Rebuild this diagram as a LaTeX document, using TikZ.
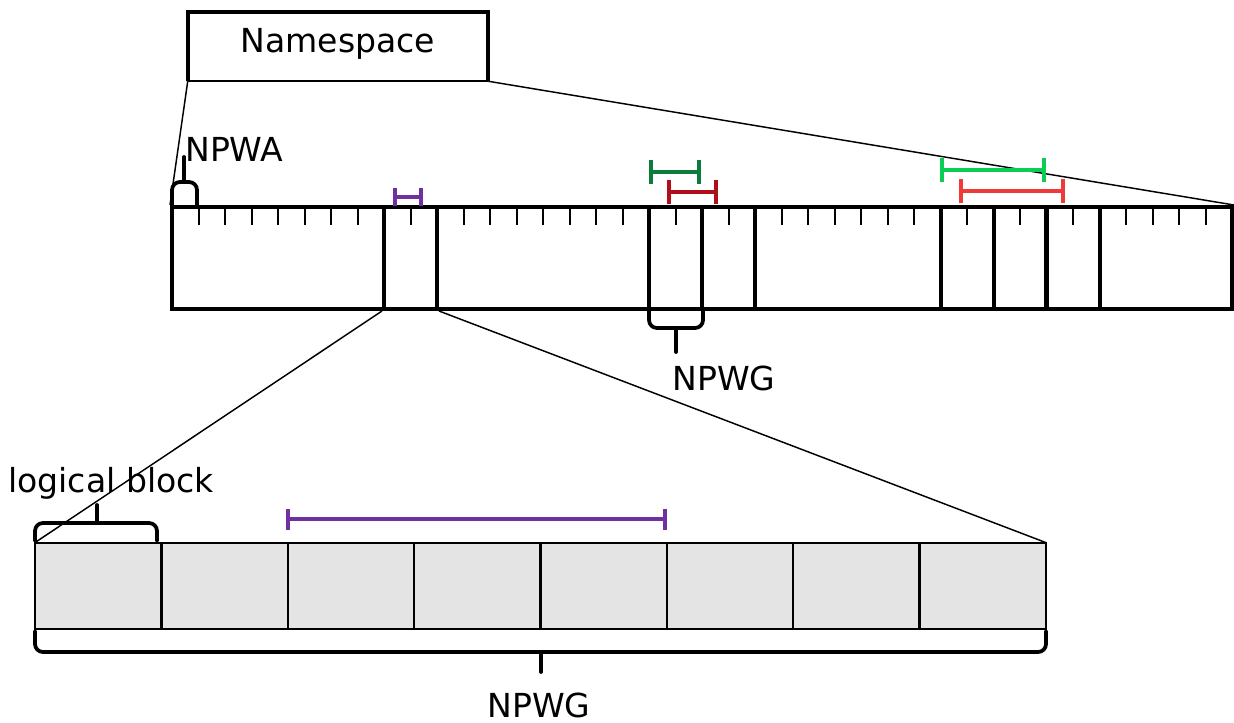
\documentclass[tikz,border=0pt]{standalone}
\usepackage{fontspec}
\setmainfont{DejaVu Sans}
\usetikzlibrary{arrows.meta}
\definecolor{purp}{RGB}{112,48,160}
\definecolor{dgreen}{RGB}{10,125,60}
\definecolor{dred}{RGB}{175,15,25}
\definecolor{bgreen}{RGB}{10,205,85}
\definecolor{bred}{RGB}{240,58,58}
\definecolor{cellgray}{RGB}{228,228,228}
\tikzset{
  lbl/.style={font=\fontsize{24.8}{28}\selectfont, inner sep=0pt, anchor=base},
  heavy/.style={line width=3pt},
  tick/.style={line width=1.5pt},
  zoomline/.style={line width=1.1pt},
  bracket/.style={line width=2.8pt, rounded corners=6pt, line cap=round},
  bracktip/.style={line width=2.8pt, line cap=round},
  interval/.style={line width=3pt, {Bar[width=#1]}-{Bar[width=#1]}},
  cell/.style={fill=cellgray, minimum width=94.8pt, minimum height=64.5pt, inner sep=0pt},
}
\begin{document}
\begin{tikzpicture}[x=0.75pt, y=-0.75pt]
\useasboundingbox (0,0) rectangle (1234,723);

% Namespace box
\node[minimum width=225pt, minimum height=51.75pt, inner sep=0pt] (ns) at (338,46.5) {};
\node[lbl] (nstext) at (338,53) {Namespace};
\draw[heavy] (ns.south west) -- (ns.north west) -- (ns.north east) -- (ns.south east);
\draw[line width=1.5pt] (ns.south west) -- (ns.south east);

% Main bar
\node[draw, heavy, minimum width=795pt, minimum height=76.5pt, inner sep=0pt] (bar) at (702,258) {};
\foreach \k in {1,...,39} {
  \ifnum\k=8 \else\ifnum\k=10 \else\ifnum\k=18 \else\ifnum\k=20 \else\ifnum\k=22 \else
  \ifnum\k=29 \else\ifnum\k=31 \else\ifnum\k=33 \else\ifnum\k=35 \else
    \draw[tick] ({172+26.5*\k},207) -- ({172+26.5*\k},225);
  \fi\fi\fi\fi\fi\fi\fi\fi\fi
}
\foreach \k in {18,20,22,29,31,35} {
  \draw[heavy] ({172+26.5*\k},207) -- ({172+26.5*\k},309);
}
\draw[line width=3.8pt] ({172+26.5*33},207) -- ({172+26.5*33},309);
\node[draw, heavy, minimum width=39.75pt, minimum height=76.5pt, inner sep=0pt] (blk) at (410.5,258) {};

% lines from namespace to bar
\draw[zoomline] (ns.south west) -- (bar.north west);
\draw[zoomline] (ns.south east) -- (bar.north east);

% NPWA bracket
\coordinate (npwatip) at (184,157);
\draw[bracket] (172,206) -- (172,182) -- (197,182) -- (197,206);
\draw[bracktip] (184,182) -- (npwatip);
\node[lbl, anchor=base west] (npwa) at (185,162) {NPWA};

% colored intervals
\coordinate (p1a) at (393,197); \coordinate (p1b) at (423,197);
\draw[interval=13.5pt, purp] (p1a) -- (p1b);
\coordinate (g1a) at (649,172); \coordinate (g1b) at (701,172);
\draw[interval=18pt, dgreen] (g1a) -- (g1b);
\coordinate (r1a) at (667,192); \coordinate (r1b) at (718,192);
\draw[interval=18pt, dred] (r1a) -- (r1b);
\coordinate (g2a) at (940,170); \coordinate (g2b) at (1046,170);
\draw[interval=18.5pt, bgreen] (g2a) -- (g2b);
\coordinate (r2a) at (959,191); \coordinate (r2b) at (1065,191);
\draw[interval=18.5pt, bred] (r2a) -- (r2b);

% middle NPWG bracket
\draw[bracket] (649,310) -- (649,328) -- (703,328) -- (703,310);
\draw[bracktip] (676,328) -- (676,352);
\node[lbl] (npwg1) at (724,390) {NPWG};

% bottom strip
\foreach \i in {1,...,8} {
  \node[cell] (c\i) at ({35+126.375*(\i-0.5)},586) {};
}
\foreach \i in {1,...,8} {
  \draw[line width=1.4pt] (c\i.south west) rectangle (c\i.north east);
}

% zoom lines
\draw[zoomline] (blk.south west) -- (c1.north west);
\draw[zoomline] (blk.south east) -- (c8.north east);

% logical block bracket
\draw[bracket] (35,541) -- (35,523) -- (157,523) -- (157,541);
\draw[bracktip] (97,523) -- (97,505);
\node[lbl] (lb) at (111,492) {logical block};

% long purple interval
\coordinate (p2a) at (286,519); \coordinate (p2b) at (667,519);
\draw[interval=15.75pt, purp] (p2a) -- (p2b);

% bottom NPWG bracket
\draw[bracket] (35,631) -- (35,652) -- (1046,652) -- (1046,631);
\draw[bracktip] (541,652) -- (541,672);
\node[lbl] (npwg2) at (539,717) {NPWG};
\end{tikzpicture}
\end{document}
